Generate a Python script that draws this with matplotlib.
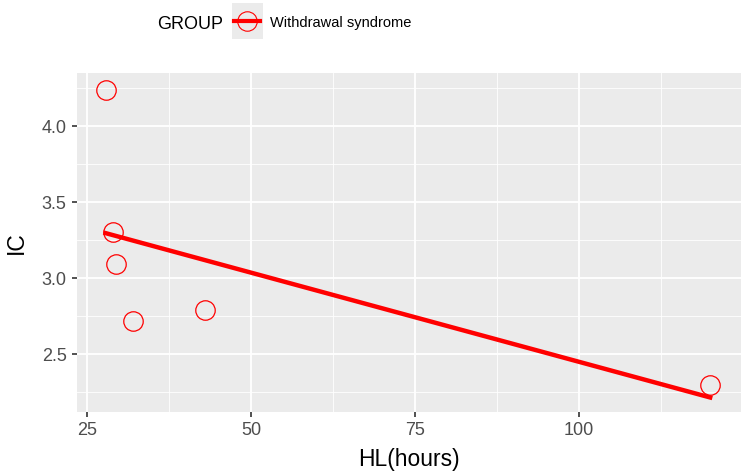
import numpy as np
import matplotlib.pyplot as plt
import matplotlib.patches as patches
from matplotlib.lines import Line2D

plt.rcParams['font.family'] = ['Liberation Sans', 'DejaVu Sans']

# data
hl_hours = [27.85, 29.0, 29.5, 32.0, 43.0, 120.0]
ic_values = [4.24, 3.305, 3.09, 2.717, 2.79, 2.296]
group_name = "Withdrawal syndrome"
x_ticks = [25, 50, 75, 100]
y_ticks = [2.5, 3.0, 3.5, 4.0]

red = "#FF0000"

fig = plt.figure(figsize=(7.5, 4.74), dpi=100)
ax = fig.add_axes([0.1027, 0.131, 0.8853, 0.715])
ax.set_facecolor("#EBEBEB")

# grid like ggplot
for xm in [37.5, 62.5, 87.5, 112.5]:
    ax.axvline(xm, color="white", lw=0.6, zorder=0)
for ym in [2.25, 2.75, 3.25, 3.75, 4.25]:
    ax.axhline(ym, color="white", lw=0.6, zorder=0)
for xv in x_ticks:
    ax.axvline(xv, color="white", lw=1.3, zorder=0)
for yv in y_ticks:
    ax.axhline(yv, color="white", lw=1.3, zorder=0)

# points
ax.plot(hl_hours, ic_values, linestyle="none", marker="o", markersize=14,
        markerfacecolor="none", markeredgecolor=red, markeredgewidth=0.9, zorder=3)

# linear fit
slope, intercept = np.polyfit(hl_hours, ic_values, 1)
xs = np.array([min(hl_hours), max(hl_hours)])
ax.plot(xs, slope * xs + intercept, color=red, lw=3.2, zorder=2)

ax.set_xlim(23.5, 124.7)
ax.set_ylim(2.12, 4.35)
ax.set_xticks(x_ticks)
ax.set_yticks(y_ticks)
ax.set_yticklabels([f"{v:.1f}" for v in y_ticks])
for s in ax.spines.values():
    s.set_visible(False)
ax.tick_params(axis="both", length=3.5, width=1.2, color="#333333",
               labelcolor="#4D4D4D", labelsize=13, pad=4)
ax.set_xlabel("HL(hours)", fontsize=16.5, labelpad=6)
ax.set_ylabel("IC", fontsize=16.5, labelpad=10)

# legend on top, drawn manually
fig.text(0.253, 0.948, "GROUP", fontsize=13, ha="center", va="center")
key = patches.Rectangle((0.309, 0.917), 0.041, 0.0775, transform=fig.transFigure,
                        facecolor="#EBEBEB", edgecolor="none")
fig.patches.append(key)
fig.lines.append(Line2D([0.312, 0.347], [0.955, 0.955], transform=fig.transFigure,
                        color=red, lw=3))
fig.lines.append(Line2D([0.3295], [0.955], transform=fig.transFigure, marker="o",
                        markersize=14, markerfacecolor="none", markeredgecolor=red,
                        markeredgewidth=0.8))
fig.text(0.36, 0.951, group_name, fontsize=10.5, ha="left", va="center")

fig.savefig("out.png", dpi=100)
